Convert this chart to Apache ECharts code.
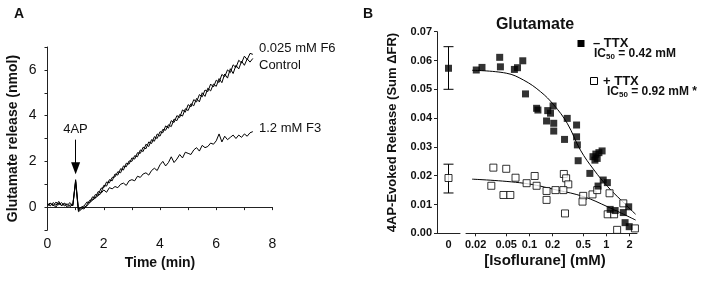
<!DOCTYPE html>
<html><head><meta charset="utf-8">
<script src="https://cdn.jsdelivr.net/npm/echarts@6/dist/echarts.min.js"></script>
<style>html,body{margin:0;padding:0;background:#fff}#c{width:709px;height:281px}</style>
</head><body><div id="c"></div>
<script>
// ---------- Panel A data ----------
const times = [0.0,0.1,0.2,0.3,0.4,0.5,0.6,0.7,0.8,0.9,1.0,1.1,1.2,1.3,1.4,1.5,1.6,1.7,1.8,1.9,
  2.0,2.1,2.2,2.3,2.4,2.5,2.6,2.7,2.8,2.9,3.0,3.1,3.2,3.3,3.4,3.5,3.6,3.7,3.8,3.9,
  4.0,4.1,4.2,4.3,4.4,4.5,4.6,4.7,4.8,4.9,5.0,5.1,5.2,5.3,5.4,5.5,5.6,5.7,5.8,5.9,
  6.0,6.1,6.2,6.3,6.4,6.5,6.6,6.7,6.8,6.9,7.0,7.1,7.2,7.3];
const controlRelease = [0.10,0.18,0.05,0.22,0.10,0.20,0.05,0.15,0.02,0.12,1.15,-0.15,-0.05,-0.08,0.10,0.30,0.32,0.55,0.52,0.82,
  0.85,1.10,1.06,1.30,1.32,1.55,1.50,1.80,1.76,2.02,2.00,2.25,2.20,2.50,2.43,2.75,2.65,2.95,2.88,3.20,
  3.10,3.40,3.36,3.60,3.52,3.85,3.78,4.05,3.98,4.30,4.22,4.52,4.43,4.75,4.60,5.00,4.84,5.20,5.08,5.38,
  5.28,5.62,5.44,5.82,5.64,6.05,5.84,6.20,6.04,6.38,6.20,6.48,6.34,6.50];
const f6Release = [0.15,0.05,0.20,0.08,0.25,0.05,0.18,0.08,0.20,0.05,1.20,-0.10,0.00,0.05,0.22,0.20,0.45,0.40,0.68,0.62,
  0.95,0.92,1.20,1.15,1.45,1.40,1.68,1.62,1.92,1.88,2.15,2.10,2.38,2.35,2.62,2.55,2.85,2.78,3.08,3.00,
  3.30,3.25,3.55,3.45,3.78,3.70,4.00,3.92,4.25,4.15,4.48,4.38,4.70,4.60,4.92,4.82,5.12,5.05,5.38,5.25,
  5.55,5.45,5.80,5.70,6.00,5.88,6.22,6.10,6.42,6.30,6.60,6.45,6.72,6.68];
const f3Release = [0.05,0.15,0.10,0.00,0.18,0.08,0.15,0.00,0.10,0.08,1.10,-0.20,-0.10,0.00,0.05,0.20,0.30,0.40,0.50,0.60,
  0.75,0.65,0.85,0.80,0.90,0.85,1.00,1.05,0.95,1.15,1.20,1.15,1.35,1.30,1.45,1.50,1.40,1.60,1.70,1.60,
  1.85,2.00,1.80,1.95,2.20,1.95,2.10,2.30,2.15,2.40,2.35,2.30,2.50,2.60,2.45,2.70,2.60,2.65,2.80,2.75,
  2.90,3.20,2.85,3.10,2.95,3.05,3.15,3.00,3.15,3.05,3.20,3.10,3.25,3.30];
const timeTickLabels = [0,2,4,6,8];
const releaseTickLabels = [0,2,4,6];

// ---------- Panel B data ----------
const zeroCategory = ['0'];
const zeroMinusTTX = [0.0573];
const zeroMinusErr = [0.0500, 0.0648];
const zeroPlusTTX = [0.0192];
const zeroPlusErr = [0.0140, 0.0240];
const minusTTXConc = [0.0204,0.0242,0.0411,0.042,0.0638,0.070,0.082,0.089,0.124,0.129,0.173,0.188,0.203,0.167,0.207,0.207,0.31,0.286,0.41,0.41,0.42,0.43,0.67,0.73,0.80,0.88,0.71,0.76,0.61,0.78,0.91,1.03,1.12,1.3,1.66,1.95,1.75,1.98];
const minusTTXRelease = [0.0567,0.0576,0.0611,0.0578,0.0569,0.0575,0.0599,0.0484,0.0434,0.0428,0.0426,0.0417,0.0442,0.0390,0.0382,0.0355,0.0399,0.0326,0.0376,0.0335,0.0307,0.0252,0.0266,0.0275,0.0280,0.0286,0.0254,0.0260,0.0208,0.0164,0.0185,0.0176,0.0083,0.0079,0.0072,0.0092,0.0037,0.0023];
const plusTTXConc = [0.032,0.034,0.050,0.046,0.0565,0.066,0.092,0.117,0.124,0.167,0.167,0.218,0.28,0.30,0.32,0.276,0.29,0.50,0.49,0.66,0.76,1.1,1.04,1.26,1.66,1.38,2.35];
const plusTTXRelease = [0.0165,0.0228,0.0224,0.0133,0.0133,0.0193,0.0174,0.0199,0.0165,0.0147,0.0116,0.0150,0.0206,0.0191,0.0170,0.0150,0.0069,0.0130,0.0110,0.0135,0.0150,0.0139,0.0066,0.0066,0.0104,0.0012,0.0017];
const fitMinusConc = [0.018,0.05,0.084,0.139,0.207,0.31,0.46,0.69,1.04,1.54,2.4];
const fitMinusRelease = [0.0566,0.0556,0.0532,0.0492,0.0446,0.0382,0.0289,0.0220,0.0162,0.0116,0.0066];
const fitPlusConc = [0.018,0.084,0.23,0.51,1.04,2.4];
const fitPlusRelease = [0.0188,0.0174,0.0150,0.0127,0.0092,0.0046];
const isoTickLabels = [0.02,0.05,0.1,0.2,0.5,1,2];

const zip = (a, b) => a.map((v, i) => [v, b[i]]);
const FONT = 'Liberation Sans, Arial, sans-serif';
const AXC = '#222';

const chart = echarts.init(document.getElementById('c'), null, {renderer: 'canvas'});

const option = {
  animation: false,
  backgroundColor: '#fff',
  textStyle: {fontFamily: FONT, color: '#111'},
  grid: [
    {left: 47.5, top: 47, width: 225, height: 183},
    {left: 437, top: 31.7, width: 23, height: 201.6},
    {left: 466, top: 31.7, width: 171, height: 201.6}
  ],
  xAxis: [
    {gridIndex: 0, type: 'value', min: 0, max: 8, interval: 1,
      axisLine: {lineStyle: {color: AXC, width: 1}},
      axisTick: {length: 3, lineStyle: {color: AXC}},
      splitLine: {show: false},
      axisLabel: {fontSize: 14, color: '#111', margin: 7, fontFamily: FONT,
        formatter: v => timeTickLabels.includes(v) ? String(v) : ''},
      name: 'Time (min)', nameLocation: 'middle', nameGap: 26,
      nameTextStyle: {fontSize: 14, fontWeight: 'bold', color: '#111', fontFamily: FONT}},
    {gridIndex: 1, type: 'category', data: zeroCategory, boundaryGap: true,
      axisLine: {lineStyle: {color: AXC}},
      axisTick: {alignWithLabel: true, length: 3, lineStyle: {color: AXC}},
      axisLabel: {fontSize: 11, fontWeight: 'bold', color: '#111', margin: 6, fontFamily: FONT}},
    {gridIndex: 2, type: 'log', min: 0.015, max: 2.5, logBase: 10,
      axisLine: {lineStyle: {color: AXC}},
      axisTick: {length: 3, lineStyle: {color: AXC}, customValues: isoTickLabels},
      minorTick: {show: false},
      splitLine: {show: false},
      axisLabel: {fontSize: 11, fontWeight: 'bold', color: '#111', margin: 6, fontFamily: FONT,
        customValues: isoTickLabels, formatter: v => String(+v.toPrecision(3))}}
  ],
  yAxis: [
    {gridIndex: 0, type: 'value', min: -1, max: 7, interval: 1,
      axisLine: {show: true, lineStyle: {color: AXC, width: 1}},
      axisTick: {show: true, length: 3, lineStyle: {color: AXC}},
      splitLine: {show: false},
      axisLabel: {fontSize: 14, color: '#111', margin: 11, fontFamily: FONT,
        formatter: v => releaseTickLabels.includes(v) ? String(v) : ''},
      name: 'Glutamate release (nmol)', nameLocation: 'middle', nameGap: 27,
      nameTextStyle: {fontSize: 14, fontWeight: 'bold', color: '#111', fontFamily: FONT}},
    {gridIndex: 1, type: 'value', min: 0, max: 0.07, interval: 0.01,
      axisLine: {show: true, lineStyle: {color: AXC}},
      axisTick: {show: true, length: 3, lineStyle: {color: AXC}},
      splitLine: {show: false},
      axisLabel: {fontSize: 11, fontWeight: 'bold', color: '#111', margin: 5, fontFamily: FONT,
        formatter: v => v.toFixed(2)},
      name: '4AP-Evoked Release (Sum \u0394FR)', nameLocation: 'middle', nameGap: 38,
      nameTextStyle: {fontSize: 13, fontWeight: 'bold', color: '#111', fontFamily: FONT}},
    {gridIndex: 2, type: 'value', min: 0, max: 0.07, interval: 0.01, show: false}
  ],
  series: [
    {type: 'line', xAxisIndex: 0, yAxisIndex: 0, data: zip(times, controlRelease), showSymbol: false,
      lineStyle: {color: '#000', width: 1}, silent: true},
    {type: 'line', xAxisIndex: 0, yAxisIndex: 0, data: zip(times, f6Release), showSymbol: false,
      lineStyle: {color: '#000', width: 1}, silent: true,
      markLine: {silent: true, symbol: ['none', 'triangle'], symbolSize: [9, 12], label: {show: false},
        lineStyle: {color: '#000', width: 1, type: 'solid'},
        data: [[{coord: [1, 2.95]}, {coord: [1, 1.7]}]]}},
    {type: 'line', xAxisIndex: 0, yAxisIndex: 0, data: zip(times, f3Release), showSymbol: false,
      lineStyle: {color: '#000', width: 1}, silent: true},
    // Panel B: zero-concentration points with error bars
    {type: 'custom', xAxisIndex: 1, yAxisIndex: 1,
      data: [[0, zeroMinusErr[0], zeroMinusErr[1]], [0, zeroPlusErr[0], zeroPlusErr[1]]],
      renderItem: (params, api) => {
        const lo = api.coord([api.value(0), api.value(1)]);
        const hi = api.coord([api.value(0), api.value(2)]);
        const w = 5, st = {stroke: '#000', lineWidth: 1};
        return {type: 'group', children: [
          {type: 'line', shape: {x1: lo[0], y1: lo[1], x2: hi[0], y2: hi[1]}, style: st},
          {type: 'line', shape: {x1: lo[0] - w, y1: lo[1], x2: lo[0] + w, y2: lo[1]}, style: st},
          {type: 'line', shape: {x1: hi[0] - w, y1: hi[1], x2: hi[0] + w, y2: hi[1]}, style: st}
        ]};
      }, z: 2},
    {type: 'scatter', xAxisIndex: 1, yAxisIndex: 1, data: zeroMinusTTX.map(v => [0, v]),
      symbol: 'rect', symbolSize: 7, itemStyle: {color: '#000'}, z: 3},
    {type: 'scatter', xAxisIndex: 1, yAxisIndex: 1, data: zeroPlusTTX.map(v => [0, v]),
      symbol: 'rect', symbolSize: 7, itemStyle: {color: '#fff', borderColor: '#000', borderWidth: 1}, z: 3},
    // Panel B: concentration series
    {type: 'line', xAxisIndex: 2, yAxisIndex: 2, data: zip(fitMinusConc, fitMinusRelease), smooth: 0.4,
      showSymbol: false, lineStyle: {color: '#000', width: 1}, z: 1},
    {type: 'line', xAxisIndex: 2, yAxisIndex: 2, data: zip(fitPlusConc, fitPlusRelease), smooth: 0.4,
      showSymbol: false, lineStyle: {color: '#000', width: 1}, z: 1},
    {type: 'scatter', xAxisIndex: 2, yAxisIndex: 2, data: zip(plusTTXConc, plusTTXRelease),
      symbol: 'rect', symbolSize: 7, itemStyle: {color: '#fff', borderColor: '#000', borderWidth: 1}, z: 3},
    {type: 'scatter', xAxisIndex: 2, yAxisIndex: 2, data: zip(minusTTXConc, minusTTXRelease),
      symbol: 'rect', symbolSize: 7, itemStyle: {color: '#000'}, z: 4}
  ],
  graphic: [
    {type: 'text', left: 14, top: 7, style: {text: 'A', font: 'bold 14px ' + FONT, fill: '#111'}},
    {type: 'text', left: 363, top: 7, style: {text: 'B', font: 'bold 14px ' + FONT, fill: '#111'}},
    {type: 'text', x: 259, y: 48, style: {text: '0.025 mM F6', font: '13px ' + FONT, fill: '#111', textVerticalAlign: 'middle'}},
    {type: 'text', x: 259, y: 65, style: {text: 'Control', font: '13px ' + FONT, fill: '#111', textVerticalAlign: 'middle'}},
    {type: 'text', x: 259, y: 128, style: {text: '1.2 mM F3', font: '13px ' + FONT, fill: '#111', textVerticalAlign: 'middle'}},
    {type: 'text', x: 75.5, y: 129, style: {text: '4AP', font: '13px ' + FONT, fill: '#111', textAlign: 'center', textVerticalAlign: 'middle'}},
    {type: 'text', x: 535, y: 25, style: {text: 'Glutamate', font: 'bold 16px ' + FONT, fill: '#111', textAlign: 'center', textVerticalAlign: 'middle'}},
    {type: 'text', x: 545, y: 261, style: {text: '[Isoflurane] (mM)', font: 'bold 15px ' + FONT, fill: '#111', textAlign: 'center', textVerticalAlign: 'middle'}},
    {type: 'rect', shape: {x: 577.5, y: 40, width: 7, height: 7}, style: {fill: '#000'}},
    {type: 'text', x: 593, y: 43, style: {text: '\u2013 TTX', font: 'bold 13px ' + FONT, fill: '#111', textVerticalAlign: 'middle'}},
    {type: 'text', x: 594, y: 54, style: {
      text: '{a|IC}{s|50}{a| = 0.42 mM}', textVerticalAlign: 'middle',
      rich: {a: {font: 'bold 12px ' + FONT, fill: '#111'}, s: {font: 'bold 8px ' + FONT, fill: '#111', padding: [6, 0, 0, 0]}}}},
    {type: 'rect', shape: {x: 590.5, y: 77.5, width: 7, height: 7}, style: {fill: '#fff', stroke: '#000', lineWidth: 1}},
    {type: 'text', x: 603, y: 81, style: {text: '+ TTX', font: 'bold 13px ' + FONT, fill: '#111', textVerticalAlign: 'middle'}},
    {type: 'text', x: 607, y: 92, style: {
      text: '{a|IC}{s|50}{a| = 0.92 mM *}', textVerticalAlign: 'middle',
      rich: {a: {font: 'bold 12px ' + FONT, fill: '#111'}, s: {font: 'bold 8px ' + FONT, fill: '#111', padding: [6, 0, 0, 0]}}}}
  ]
};
chart.setOption(option);
</script>
</body></html>
